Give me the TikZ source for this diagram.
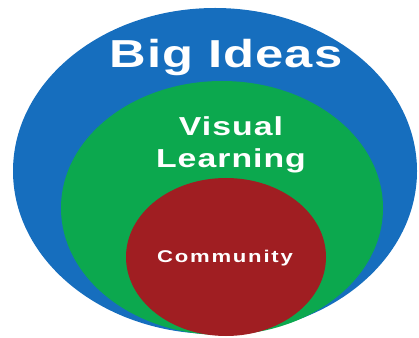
\documentclass[tikz,border=0pt]{standalone}
\usepackage{fontspec}
\usepackage[rgb]{xcolor}
\usepackage{tikz}

\newfontfamily\bigfont[LetterSpace=2]{Liberation Sans}
\newfontfamily\midfont[LetterSpace=3]{Liberation Sans}
\newfontfamily\smallfont[LetterSpace=8]{Liberation Sans}

\definecolor{ideasblue}{RGB}{22,110,190}
\definecolor{visualgreen}{RGB}{12,168,78}
\definecolor{communityred}{RGB}{160,30,34}

\begin{document}
\begin{tikzpicture}[x=1pt,y=1pt,
	label text/.style={text=white, inner sep=0pt, align=center, xscale=1.3, transform shape}]

\useasboundingbox (0,0) rectangle (419,337);

% Draws the three nested ellipses Blue, Green and Red
\draw [draw=none, fill=ideasblue] (215,166) ellipse (202 and 163);
\draw [draw=none, fill=visualgreen] (222,129) ellipse (161 and 127);
\draw [draw=none, fill=communityred] (226,80) ellipse (100 and 79);

% Writes out the name of each ellipse near its top
\node[label text, font=\bigfont\bfseries\fontsize{39}{39}\selectfont] (ideas) at (226,279) {Big Ideas};
\node[label text, font=\midfont\bfseries\fontsize{26}{32}\selectfont] (visual) at (231,192) {Visual\\Learning};
\node[label text, font=\smallfont\bfseries\fontsize{17}{17}\selectfont] (community) at (225,79) {Community};

\end{tikzpicture}
\end{document}
